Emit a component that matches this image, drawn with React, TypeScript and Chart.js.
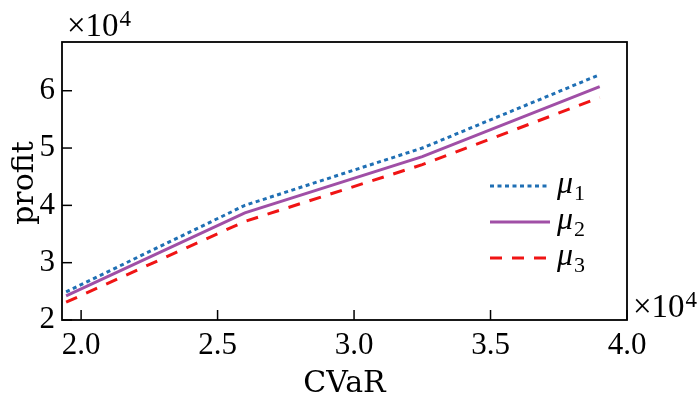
import React, { useEffect, useRef } from "react";
import { Chart, registerables } from "chart.js";

Chart.register(...registerables);

// CVaR values (x) and profit values for each mu
const cvar = [19450, 26000, 32500, 39000];
const mu1 = [24900, 40000, 50000, 62800];
const mu2 = [24200, 38700, 48500, 60700];
const mu3 = [23100, 37200, 47100, 58800];

const seriesLabels = ["1", "2", "3"];
const xTicks = [20000, 25000, 30000, 35000, 40000];
const yTicks = [20000, 30000, 40000, 50000, 60000];

const COLORS = ["#1f6fb4", "#a04fa6", "#f01414"];
const DASHES = [[4, 3.5], [], [12, 10]];

const SERIF = "'Liberation Serif', 'DejaVu Serif', serif";
const TITLE_FONT = "'DejaVu Serif', serif";

const framePlugin = {
  id: "frame",
  afterDraw(chart: any) {
    const ctx = chart.ctx;
    const a = chart.chartArea;
    ctx.save();
    // box
    ctx.strokeStyle = "#000";
    ctx.lineWidth = 1.8;
    ctx.setLineDash([]);
    ctx.strokeRect(a.left, a.top, a.right - a.left, a.bottom - a.top);
    // inward ticks
    ctx.lineWidth = 1.5;
    const xs = chart.scales.x;
    const ys = chart.scales.y;
    xs.ticks.forEach((t: any) => {
      const px = xs.getPixelForValue(t.value);
      ctx.beginPath();
      ctx.moveTo(px, a.bottom);
      ctx.lineTo(px, a.bottom - 10);
      ctx.stroke();
    });
    ys.ticks.forEach((t: any) => {
      const py = ys.getPixelForValue(t.value);
      ctx.beginPath();
      ctx.moveTo(a.left, py);
      ctx.lineTo(a.left + 10, py);
      ctx.stroke();
    });

    ctx.fillStyle = "#000";
    // multipliers
    const drawMult = (x: number, y: number) => {
      ctx.font = `33px ${SERIF}`;
      ctx.textAlign = "left";
      ctx.textBaseline = "alphabetic";
      const main = "\u00d710";
      ctx.fillText(main, x, y);
      const w = ctx.measureText(main).width;
      ctx.font = `23px ${SERIF}`;
      ctx.fillText("4", x + w + 1, y - 10);
    };
    drawMult(67, 36);
    drawMult(633, 317);

    // axis titles
    ctx.font = `30px ${TITLE_FONT}`;
    ctx.textAlign = "center";
    ctx.textBaseline = "alphabetic";
    ctx.fillText("CVaR", (a.left + a.right) / 2, 392);
    ctx.save();
    ctx.translate(33, (a.top + a.bottom) / 2 + 2);
    ctx.rotate(-Math.PI / 2);
    ctx.fillText("profit", 0, 0);
    ctx.restore();

    // legend
    const rows = [186, 222, 258];
    chart.data.datasets.forEach((ds: any, i: number) => {
      const y = rows[i];
      ctx.strokeStyle = ds.borderColor;
      ctx.lineWidth = 3;
      ctx.setLineDash(ds.borderDash || []);
      ctx.beginPath();
      ctx.moveTo(490, y);
      ctx.lineTo(550, y);
      ctx.stroke();
      ctx.setLineDash([]);
      ctx.fillStyle = "#000";
      ctx.textAlign = "left";
      ctx.font = `italic 32px ${SERIF}`;
      ctx.fillText("\u03bc", 557, y + 7);
      const w = ctx.measureText("\u03bc").width;
      ctx.font = `22px ${SERIF}`;
      ctx.fillText(seriesLabels[i], 557 + w + 1, y + 14);
    });
    ctx.restore();
  },
};

export default function App() {
  const ref = useRef<HTMLCanvasElement | null>(null);
  useEffect(() => {
    if (!ref.current) return;
    const data = [mu1, mu2, mu3];
    const chart = new Chart(ref.current, {
      type: "line",
      data: {
        datasets: data.map((vals, i) => ({
          label: "\u03bc" + seriesLabels[i],
          data: cvar.map((x, j) => ({ x, y: vals[j] })),
          borderColor: COLORS[i],
          borderWidth: 3,
          borderDash: DASHES[i],
          pointRadius: 0,
          fill: false,
          tension: 0,
        })),
      },
      options: {
        responsive: false,
        animation: false,
        layout: { padding: { left: 0, top: 42, right: 73, bottom: 0 } },
        plugins: { legend: { display: false }, tooltip: { enabled: false } },
        scales: {
          x: {
            type: "linear",
            min: 19300,
            max: 40000,
            grid: { display: false, drawTicks: false },
            border: { display: false },
            afterBuildTicks: (s: any) => {
              s.ticks = xTicks.map((v) => ({ value: v }));
            },
            afterFit: (s: any) => {
              s.height = 79;
            },
            ticks: {
              padding: 7,
              maxRotation: 0,
              autoSkip: false,
              color: "#000",
              font: { family: SERIF, size: 31 },
              callback: (v: any) => (Number(v) / 10000).toFixed(1),
            },
          },
          y: {
            type: "linear",
            min: 20000,
            max: 68500,
            grid: { display: false, drawTicks: false },
            border: { display: false },
            afterBuildTicks: (s: any) => {
              s.ticks = yTicks.map((v) => ({ value: v }));
            },
            afterFit: (s: any) => {
              s.width = 62;
            },
            ticks: {
              padding: 7,
              autoSkip: false,
              color: "#000",
              font: { family: SERIF, size: 31 },
              callback: (v: any) => String(Math.round(Number(v) / 10000)),
            },
          },
        },
      },
      plugins: [framePlugin],
    } as any);
    return () => chart.destroy();
  }, []);
  return (
    <div style={{ position: "fixed", left: 0, top: 0, width: 700, height: 399, background: "#fff" }}>
      <canvas ref={ref} width={700} height={399} />
    </div>
  );
}
